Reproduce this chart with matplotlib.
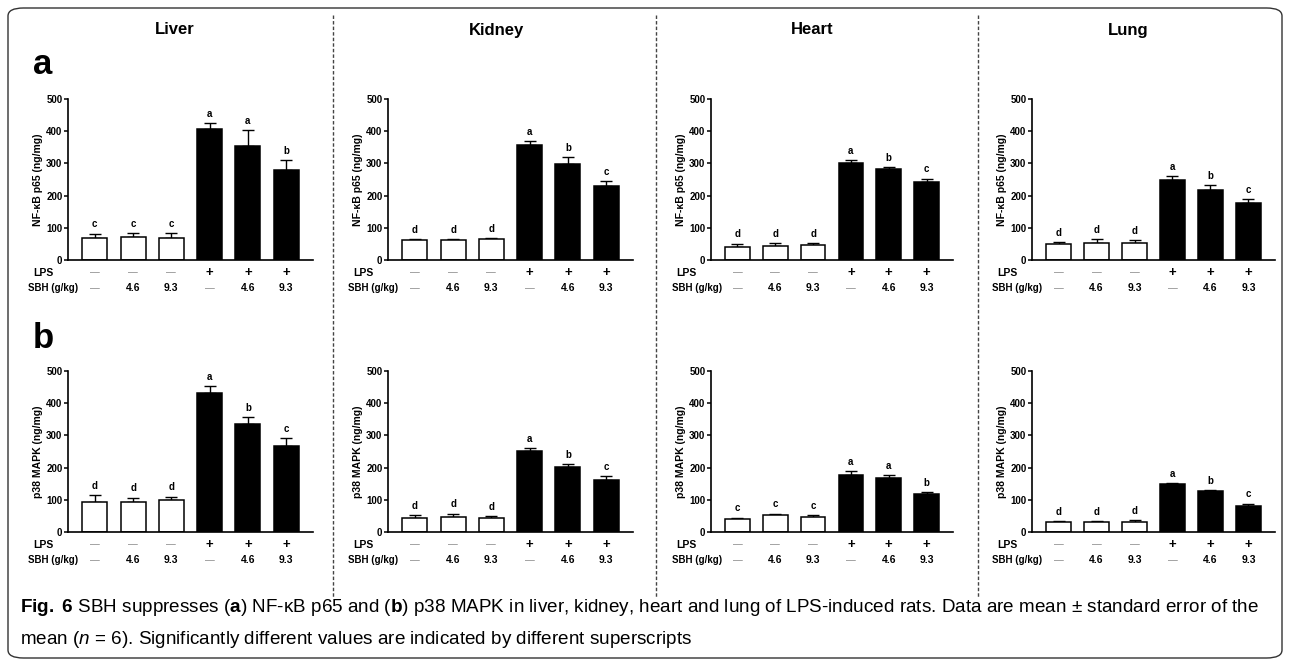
import matplotlib
matplotlib.use("Agg")
import matplotlib.pyplot as plt
from matplotlib.patches import FancyBboxPatch
from matplotlib.lines import Line2D

plt.rcParams['font.family'] = ['Liberation Sans', 'DejaVu Sans']
plt.rcParams['mathtext.fontset'] = 'custom'
plt.rcParams['mathtext.rm'] = 'Liberation Sans'
plt.rcParams['mathtext.bf'] = 'Liberation Sans:bold'
plt.rcParams['mathtext.it'] = 'Liberation Sans:italic'

organs = ['Liver', 'Kidney', 'Heart', 'Lung']
ylabels = ['NF-\u03baB p65 (ng/mg)', 'p38 MAPK (ng/mg)']
lps_row = ['\u2014', '\u2014', '\u2014', '+', '+', '+']
sbh_row = ['\u2014', '4.6', '9.3', '\u2014', '4.6', '9.3']

# NF-kB p65 (row a)
nfkb_mean = {
    'Liver': [67, 70, 69, 407, 353, 281],
    'Kidney': [62, 61, 64, 356, 297, 231],
    'Heart': [40, 43, 46, 300, 282, 242],
    'Lung': [49, 54, 52, 250, 217, 177],
}
nfkb_sem = {
    'Liver': [15, 14, 14, 18, 50, 30],
    'Kidney': [4, 3, 3, 14, 23, 13],
    'Heart': [11, 10, 7, 11, 6, 11],
    'Lung': [6, 12, 10, 10, 16, 13],
}
nfkb_letters = {
    'Liver': ['c', 'c', 'c', 'a', 'a', 'b'],
    'Kidney': ['d', 'd', 'd', 'a', 'b', 'c'],
    'Heart': ['d', 'd', 'd', 'a', 'b', 'c'],
    'Lung': ['d', 'd', 'd', 'a', 'b', 'c'],
}

# p38 MAPK (row b)
p38_mean = {
    'Liver': [93, 94, 98, 432, 336, 267],
    'Kidney': [45, 48, 43, 253, 203, 161],
    'Heart': [40, 52, 46, 178, 167, 117],
    'Lung': [32, 32, 32, 148, 127, 82],
}
p38_sem = {
    'Liver': [21, 13, 12, 21, 21, 25],
    'Kidney': [7, 9, 6, 7, 8, 13],
    'Heart': [5, 5, 7, 11, 9, 8],
    'Lung': [3, 3, 4, 5, 4, 6],
}
p38_letters = {
    'Liver': ['d', 'd', 'd', 'a', 'b', 'c'],
    'Kidney': ['d', 'd', 'd', 'a', 'b', 'c'],
    'Heart': ['c', 'c', 'c', 'a', 'a', 'b'],
    'Lung': ['d', 'd', 'd', 'a', 'b', 'c'],
}

W, H = 1290, 666
fig = plt.figure(figsize=(W / 100, H / 100), dpi=100)


def px_axes(x0, y0, x1, y1):
    # pixel box (top-left origin) -> figure axes
    return fig.add_axes([x0 / W, 1 - y1 / H, (x1 - x0) / W, (y1 - y0) / H])


# outer rounded frame
fig.patches.append(FancyBboxPatch((8 / W, 8 / H), (W - 16) / W, (H - 16) / H,
                                  boxstyle='round,pad=0,rounding_size=0.012',
                                  transform=fig.transFigure, fill=False,
                                  edgecolor='#333333', linewidth=1.0))

# dashed separators
for xs in [333, 656, 978]:
    fig.add_artist(Line2D([xs / W, xs / W], [1 - 15 / H, 1 - 597 / H],
                          transform=fig.transFigure, color='#444444',
                          linewidth=1.0, linestyle=(0, (2.5, 1.5))))

# column headers
header_x = [175, 497, 812, 1128]
for name, hx in zip(organs, header_x):
    fig.text(hx / W, 1 - 30 / H, name, ha='center', va='center',
             fontsize=12, fontweight='bold')

fig.text(43 / W, 1 - 64 / H, 'a', ha='center', va='center', fontsize=25, fontweight='bold')
fig.text(43 / W, 1 - 338 / H, 'b', ha='center', va='center', fontsize=25, fontweight='bold')

axes_x = [(68, 313), (388, 633), (711, 953), (1032, 1275)]
rows = [((99, 260), nfkb_mean, nfkb_sem, nfkb_letters, ylabels[0]),
        ((371, 532), p38_mean, p38_sem, p38_letters, ylabels[1])]

x = list(range(6))
colors = ['white'] * 3 + ['black'] * 3

for (ytop, ybot), means, sems, letters, ylab in rows:
    for organ, (xl, xr) in zip(organs, axes_x):
        ax = px_axes(xl, ytop, xr, ybot)
        m = means[organ]
        s = sems[organ]
        ax.bar(x, m, width=0.65, color=colors, edgecolor='black', linewidth=1.1, zorder=2)
        ax.errorbar(x, m, yerr=[[0] * 6, s], fmt='none', ecolor='black',
                    elinewidth=1.0, capsize=4, capthick=1.0, zorder=1)
        for xi, mi, si, lt in zip(x, m, s, letters[organ]):
            ax.annotate(lt, (xi, mi + si), xytext=(0, 3), textcoords='offset points',
                        ha='center', va='bottom', fontsize=7, fontweight='bold')
        ax.set_xlim(-0.7, 5.7)
        ax.set_ylim(0, 500)
        ax.set_yticks([0, 100, 200, 300, 400, 500])
        ax.set_xticks([])
        for sp in ['top', 'right']:
            ax.spines[sp].set_visible(False)
        for sp in ['left', 'bottom']:
            ax.spines[sp].set_linewidth(1.2)
        ax.tick_params(axis='y', length=3, width=1.1, pad=1, labelsize=7)
        for lab in ax.get_yticklabels():
            lab.set_fontweight('bold')
        ax.set_ylabel(ylab, fontsize=7.5, fontweight='bold', labelpad=2)

        # treatment rows under the axis
        tr = ax.get_xaxis_transform()
        ax.text(-0.143, -0.078, 'LPS', transform=ax.transAxes, ha='left', va='center',
                fontsize=7.5, fontweight='bold')
        ax.text(-0.163, -0.172, 'SBH (g/kg)', transform=ax.transAxes, ha='left', va='center',
                fontsize=7, fontweight='bold')
        for xi, lp, sb in zip(x, lps_row, sbh_row):
            if lp == '+':
                ax.text(xi, -0.078, lp, transform=tr, ha='center', va='center',
                        fontsize=9.5, fontweight='bold', clip_on=False)
            else:
                ax.text(xi, -0.078, lp, transform=tr, ha='center', va='center',
                        fontsize=7, color='#888888', clip_on=False)
            if sb == '\u2014':
                ax.text(xi, -0.172, sb, transform=tr, ha='center', va='center',
                        fontsize=7, color='#888888', clip_on=False)
            else:
                ax.text(xi, -0.172, sb, transform=tr, ha='center', va='center',
                        fontsize=7.5, fontweight='bold', clip_on=False)

# caption
fig.text(20 / W, 1 - 608 / H,
         r'$\bf{Fig.\ 6}$ SBH suppresses (' + r'$\bf{a}$' + ') NF-\u03baB p65 and (' + r'$\bf{b}$'
         + ') p38 MAPK in liver, kidney, heart and lung of LPS-induced rats. '
         'Data are mean \u00b1 standard error of the',
         ha='left', va='center', fontsize=13.6)
fig.text(20 / W, 1 - 640 / H,
         'mean (' + r'$n$' + ' = 6). Significantly different values are indicated by different superscripts',
         ha='left', va='center', fontsize=13.6)

fig.savefig('out.png', dpi=100)
